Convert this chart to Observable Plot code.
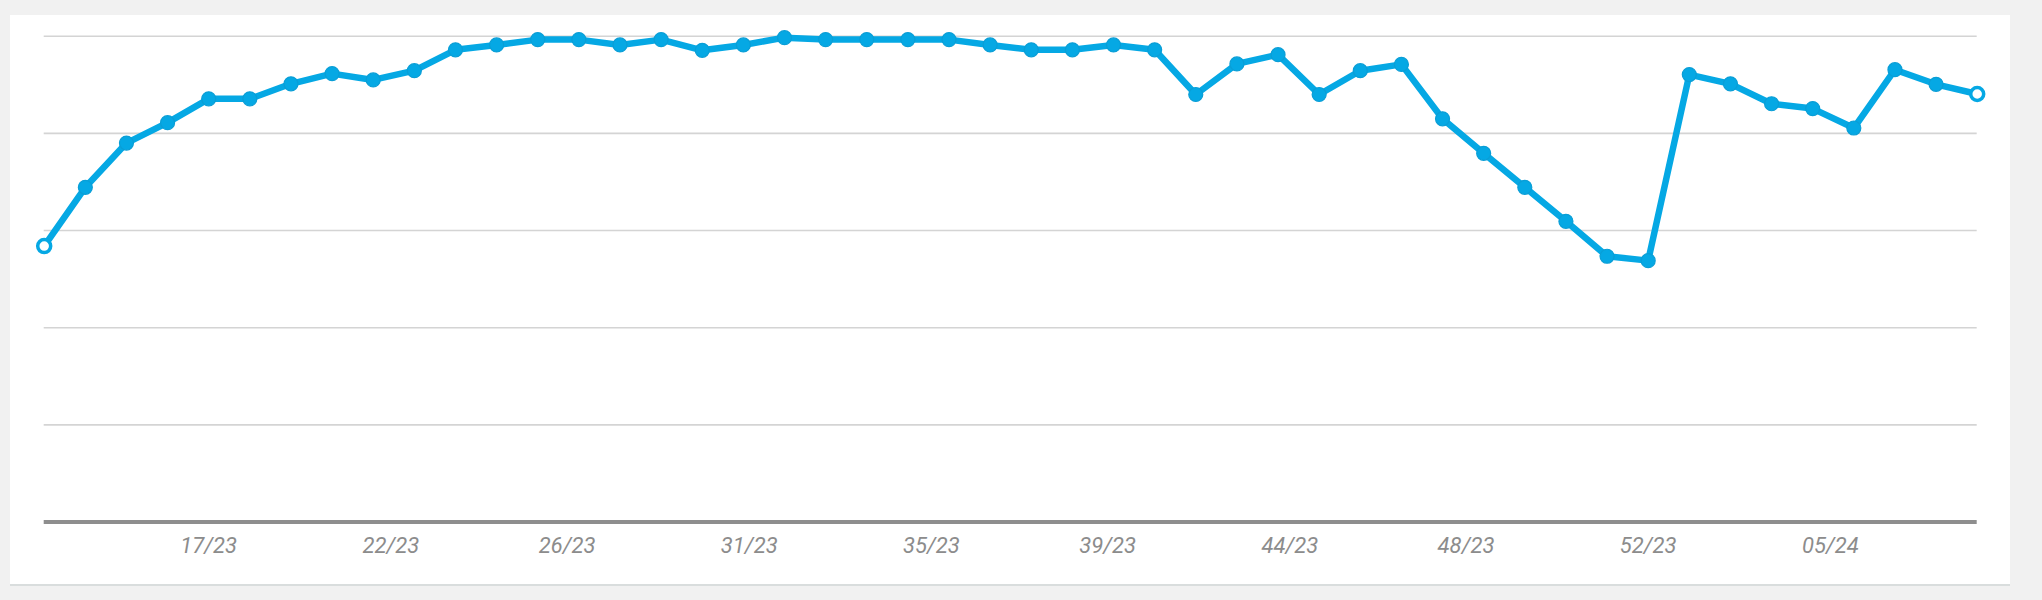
<!DOCTYPE html>
<html><head><meta charset="utf-8">
<script src="https://cdn.jsdelivr.net/npm/d3@7"></script>
<script src="https://cdn.jsdelivr.net/npm/@observablehq/plot@0.6"></script>
<style>
html,body{margin:0;padding:0;background:#f1f1f1;}
body{width:2042px;height:600px;position:relative;overflow:hidden;}
#panel{position:absolute;left:10px;top:15px;width:2000px;height:569px;background:#fff;border-bottom:2px solid #d9dddd;}
#panel svg{display:block;}
</style></head><body><div id="panel"></div>
<script>
const weeks = [
  "2023-04-03","2023-04-10","2023-04-17","2023-04-24","2023-05-01","2023-05-08","2023-05-15","2023-05-22","2023-05-29",
  "2023-06-05","2023-06-12","2023-06-19","2023-06-26","2023-07-03","2023-07-10","2023-07-17","2023-07-24","2023-07-31",
  "2023-08-07","2023-08-14","2023-08-21","2023-08-28","2023-09-04","2023-09-11","2023-09-18","2023-09-25",
  "2023-10-02","2023-10-09","2023-10-16","2023-10-23","2023-10-30","2023-11-06","2023-11-13","2023-11-20","2023-11-27",
  "2023-12-04","2023-12-11","2023-12-18","2023-12-25","2024-01-01","2024-01-08","2024-01-15","2024-01-22","2024-01-29",
  "2024-02-05","2024-02-12","2024-02-19","2024-02-26"
];
const values = [
  56.8, 68.9, 78.0, 82.2, 87.1, 87.1, 90.2, 92.3, 91.0, 92.9,
  97.2, 98.2, 99.3, 99.3, 98.2, 99.3, 97.1, 98.2, 99.7, 99.3,
  99.3, 99.3, 99.3, 98.2, 97.2, 97.2, 98.2, 97.2, 88.0, 94.3,
  96.2, 88.0, 92.9, 94.2, 83.0, 75.9, 68.9, 61.9, 54.7, 53.8,
  92.1, 90.2, 86.1, 85.1, 81.1, 93.1, 90.1, 88.1
];
const tickDates = ["2023-05-01","2023-06-01","2023-07-01","2023-08-01","2023-09-01","2023-10-01","2023-11-01","2023-12-01","2024-01-01","2024-02-01"];
const tickLabels = ["17/23","22/23","26/23","31/23","35/23","39/23","44/23","48/23","52/23","05/24"];
const gridValues = [20, 40, 60, 80, 100];

const data = weeks.map((w, i) => ({date: new Date(w), value: values[i]}));
const ticks = tickDates.map(t => new Date(t));
const labelFor = d => tickLabels[ticks.findIndex(t => +t === +d)];
const blue = "#05a8e4";
const last = data.length - 1;

const chart = Plot.plot({
  width: 2000,
  height: 569,
  marginLeft: 33.7,
  marginRight: 33.3,
  marginTop: 20.7,
  marginBottom: 62.5,
  style: {background: "transparent", overflow: "visible", fontFamily: "Roboto, sans-serif"},
  x: {type: "utc", domain: [data[0].date, data[last].date]},
  y: {domain: [0, 100], axis: null},
  marks: [
    Plot.ruleY(gridValues, {stroke: "#d4d4d4", strokeWidth: 1.6}),
    Plot.ruleY([0], {stroke: "#8e8e8e", strokeWidth: 4}),
    Plot.axisX(ticks, {tickSize: 0, tickPadding: 15, tickFormat: labelFor, label: null,
      fontSize: 22, fontStyle: "italic", fill: "#8c8c8c"}),
    Plot.line(data, {x: "date", y: "value", stroke: blue, strokeWidth: 6.5, strokeLinejoin: "round"}),
    Plot.dot(data, {filter: (d, i) => i > 0 && i < last, x: "date", y: "value", r: 7, fill: blue, stroke: "#0a9ed6", strokeWidth: 1.2}),
    Plot.dot(data, {filter: (d, i) => i === 0 || i === last, x: "date", y: "value", r: 6.5, fill: "#fff", stroke: blue, strokeWidth: 3.5})
  ]
});
document.getElementById("panel").appendChild(chart);
</script>
</body></html>
